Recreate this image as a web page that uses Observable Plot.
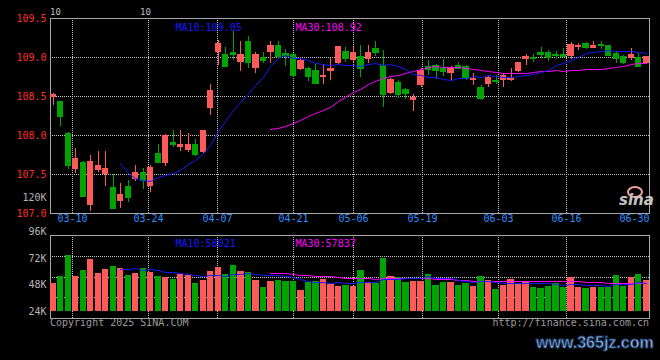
<!DOCTYPE html>
<html><head><meta charset="utf-8">
<script src="https://cdn.jsdelivr.net/npm/d3@7"></script>
<script src="https://cdn.jsdelivr.net/npm/@observablehq/plot@0.6"></script>
<style>
body{margin:0;background:#000;}
#wrap{position:relative;width:660px;height:360px;background:#000;overflow:hidden;font-family:"DejaVu Sans Mono",monospace;}
.t{position:absolute;font-size:10px;line-height:12px;white-space:nowrap;}
</style></head><body>
<div id="wrap">
<div id="price" style="position:absolute;left:0;top:0"></div>
<div id="vol" style="position:absolute;left:0;top:228px"></div>
<div class="t" style="left:50px;top:6px;font-size:9px;color:#bdbdbd">10</div>
<div class="t" style="left:140px;top:6px;font-size:9px;color:#bdbdbd">10</div>
<div class="t" style="left:50px;top:317px;color:#9b9b9b">Copyright 2025 SINA.COM</div>
<div class="t" style="right:11px;top:317px;color:#9b9b9b">http://finance.sina.com.cn</div>
<div style="position:absolute;left:627px;top:186px;width:12px;height:8px;border:2px solid #f2a0a0;border-radius:50%"></div>
<div style="position:absolute;left:619px;top:192px;font:italic bold 15px 'DejaVu Sans';color:#c4c4c4;line-height:16px">sina</div>
<div style="position:absolute;left:536px;top:334px;font:bold 16px 'Liberation Sans';line-height:18px;color:#a9cbee;-webkit-text-stroke:1px #1b3b6b;white-space:nowrap">www.365jz.com</div>
</div>
<script>
// ---- data ----
const dates = ["03-05","03-06","03-07","03-10","03-11","03-12","03-13","03-14","03-17","03-18",
"03-19","03-20","03-21","03-24","03-25","03-26","03-27","03-28","03-31","04-01",
"04-02","04-03","04-07","04-08","04-09","04-10","04-11","04-14","04-15","04-16",
"04-17","04-18","04-21","04-22","04-23","04-24","04-25","04-28","04-29","04-30",
"05-06","05-07","05-08","05-09","05-12","05-13","05-14","05-15","05-16","05-19",
"05-20","05-21","05-22","05-23","05-26","05-27","05-28","05-29","05-30","06-03",
"06-04","06-05","06-06","06-09","06-10","06-11","06-12","06-13","06-16","06-17",
"06-18","06-19","06-20","06-23","06-24","06-25","06-26","06-27","06-30","07-01"];
const open = [108.49,108.43,108.02,107.57,107.65,107.10,107.55,107.50,107.33,107.16,
107.35,107.44,107.53,107.34,107.77,107.64,107.91,107.84,107.81,107.88,
107.78,108.34,109.07,109.04,109.07,108.94,109.21,108.86,109.00,109.06,
109.16,109.05,109.04,108.85,108.86,108.83,108.75,108.82,108.92,109.08,
108.96,109.01,108.98,109.11,108.90,108.54,108.68,108.59,108.45,108.64,
108.89,108.90,108.86,108.79,108.90,108.89,108.70,108.62,108.65,108.71,
108.71,108.71,108.82,108.97,109.00,109.06,109.06,109.04,109.04,109.01,
109.13,109.18,109.11,109.17,109.15,109.05,109.01,108.99,109.00,108.92];
const high = [108.54,108.44,108.04,107.83,107.67,107.75,107.80,107.80,107.50,107.39,
107.42,107.61,107.58,107.62,107.88,108.01,108.07,108.07,108.03,107.95,
108.07,108.65,109.22,109.13,109.33,109.20,109.27,109.06,109.07,109.21,
109.20,109.10,109.05,109.00,108.87,108.91,108.91,108.99,109.14,109.13,
109.13,109.16,109.16,109.21,109.09,108.73,108.70,108.60,108.53,108.86,
108.96,108.91,108.97,108.89,108.94,108.90,108.79,108.64,108.76,108.77,
108.80,108.86,108.94,109.04,109.04,109.13,109.09,109.08,109.11,109.19,
109.18,109.19,109.21,109.20,109.16,109.08,109.03,109.12,109.05,109.01];
const low = [108.39,108.12,107.56,107.51,107.20,107.03,107.53,107.34,107.05,107.06,
107.14,107.41,107.31,107.27,107.65,107.60,107.84,107.80,107.78,107.73,
107.77,108.26,108.90,108.88,108.96,108.82,108.86,108.80,108.92,108.92,
108.98,108.88,108.74,108.83,108.69,108.66,108.66,108.70,108.91,108.94,
108.94,108.75,108.92,109.01,108.36,108.53,108.48,108.46,108.31,108.62,
108.77,108.72,108.76,108.70,108.84,108.70,108.64,108.45,108.62,108.65,
108.62,108.69,108.81,108.90,108.94,108.99,108.95,108.97,109.00,108.97,
109.09,109.10,109.11,109.10,109.01,108.92,108.91,108.96,108.88,108.92];
const close = [108.52,108.24,107.62,107.70,107.22,107.67,107.62,107.58,107.06,107.24,
107.21,107.53,107.42,107.59,107.66,108.00,107.88,107.88,107.88,107.76,
108.06,108.58,109.18,108.89,109.04,109.04,108.94,109.04,108.96,109.15,
109.01,109.02,108.77,108.96,108.76,108.67,108.77,108.86,109.14,108.99,
109.06,108.86,109.06,109.06,108.53,108.72,108.53,108.54,108.49,108.83,
108.84,108.83,108.82,108.86,108.86,108.73,108.73,108.47,108.74,108.69,
108.77,108.73,108.93,109.01,108.99,109.04,109.00,109.02,109.01,109.17,
109.15,109.13,109.16,109.15,109.02,108.99,108.94,109.04,108.89,109.01];
const volume = [49300,55600,74300,55600,60800,70700,58300,61400,64400,62300,
56300,58300,62800,58700,55600,54700,52600,56900,56300,49300,
51700,59900,63800,57200,65300,59900,58700,51700,45400,50800,
51700,50800,50800,42700,50200,50800,52600,48100,46600,47200,
46600,60800,50200,48800,71900,55600,54200,50200,50800,50800,
57200,47200,50200,50200,47200,48800,46300,55300,51700,43600,
47200,52600,47800,50800,45700,44800,46300,48800,45700,54700,
45700,44800,45700,45700,45100,56300,46600,54700,57200,51700];
const tickDates = ["03-10","03-24","04-07","04-21","05-06","05-19","06-03","06-16","06-30"];
const priceTicks = [109.5,109.0,108.5,108.0,107.5,107.0];
const volTicks = [96000,72000,48000,24000];
const priceMaLabels = ["MA10:109.05","MA30:108.92"];
const volMaLabels = ["MA10:58021","MA30:57837"];
const extraPriceLabel = "120K";

// ---- derived ----
const rows = dates.map((d,i)=>({i, date:d, open:open[i], high:high[i], low:low[i], close:close[i], volume:volume[i]}));
const isUp = d => d.close >= d.open;
function movingAvg(vals,k){return vals.map((_,i)=> i<k-1 ? NaN : d3.mean(vals.slice(i-k+1,i+1)));}
const ma = (vals,k) => movingAvg(vals,k).map((v,i)=>({i, v}));
const pMa10 = ma(close,10), pMa30 = ma(close,30), vMa10 = ma(volume,10), vMa30 = ma(volume,30);

const RED = "#ff5a5a", GREEN = "#00a400", BLUE = "#1818ff", MAG = "#ff00ff";
const GRID = "#c4c4c4", FRAME = "#a8a8a8";
const xDomain = [-0.36, 79.44];
// sina lays its date lines on a slightly wider pitch than the candles
const gx = k => k*1.0132 - 0.468;
const ticks = tickDates.map(t=>({label:t, x:gx(dates.indexOf(t))}));
const inside = ticks.filter(t=>t.x < xDomain[1]-1.5);
const edge = ticks.filter(t=>t.x >= xDomain[1]-1.5);
const half = 0.42;
const style = {background:"transparent", overflow:"visible", fontFamily:"DejaVu Sans Mono", fontSize:"10px"};

const candleMarks = (yBase) => [];

const price = Plot.plot({
  width:660, height:228, marginLeft:50, marginRight:11, marginTop:18, marginBottom:15,
  style,
  x:{domain:xDomain, axis:null, round:true},
  y:{domain:[107,109.5], axis:null, round:true},
  marks:[
    Plot.ruleY(priceTicks.slice(1,-1), {stroke:GRID, strokeDasharray:"1,1"}),
    Plot.ruleX(inside, {x:"x", stroke:GRID, strokeDasharray:"1,1"}),
    Plot.frame({stroke:FRAME}),
    Plot.ruleX(rows, {filter:isUp, x:"i", y1:"low", y2:"high", stroke:RED}),
    Plot.ruleX(rows, {filter:d=>!isUp(d), x:"i", y1:"low", y2:"high", stroke:GREEN}),
    Plot.rect(rows, {filter:isUp, x1:d=>d.i-half, x2:d=>d.i+half, y1:"open", y2:"close", fill:RED}),
    Plot.rect(rows, {filter:d=>!isUp(d), x1:d=>d.i-half, x2:d=>d.i+half, y1:"open", y2:"close", fill:GREEN}),
    Plot.ruleY(rows, {filter:isUp, x1:d=>d.i-half, x2:d=>d.i+half, y:"close", stroke:RED}),
    Plot.ruleY(rows, {filter:d=>!isUp(d), x1:d=>d.i-half, x2:d=>d.i+half, y:"close", stroke:GREEN}),
    Plot.line(pMa30, {x:"i", y:"v", stroke:MAG, strokeWidth:1}),
    Plot.line(pMa10, {x:"i", y:"v", stroke:BLUE, strokeWidth:1}),
    Plot.text(priceTicks, {y:d=>d, frameAnchor:"left", dx:-4, textAnchor:"end", text:d=>d.toFixed(1), fill:"#ff2b2b"}),
    Plot.text([extraPriceLabel], {frameAnchor:"bottom-left", dx:-4, dy:-13, textAnchor:"end", text:d=>d, fill:"#b4b4b4"}),
    Plot.text(inside, {x:"x", frameAnchor:"bottom", dy:8, text:"label", fill:"#2f8fff"}),
    Plot.text(edge, {frameAnchor:"bottom-right", dy:8, textAnchor:"end", text:"label", fill:"#2f8fff"}),
    Plot.text([priceMaLabels[0]], {frameAnchor:"top-left", dx:125, dy:5.5, textAnchor:"start", text:d=>d, fill:BLUE}),
    Plot.text([priceMaLabels[1]], {frameAnchor:"top-left", dx:245, dy:5.5, textAnchor:"start", text:d=>d, fill:MAG})
  ]
});
document.getElementById("price").appendChild(price);

const volDomain = [17400, 92400];
const volBase = d3.min(volTicks);
const volGrid = [0.25,0.5,0.75].map(f=>volDomain[0]+(volDomain[1]-volDomain[0])*f);
const vol = Plot.plot({
  width:660, height:132, marginLeft:50, marginRight:11, marginTop:7, marginBottom:42,
  style,
  x:{domain:xDomain, axis:null, round:true},
  y:{domain:volDomain, axis:null, round:true},
  marks:[
    Plot.ruleY(volGrid, {stroke:GRID, strokeDasharray:"1,1"}),
    Plot.ruleX(inside, {x:"x", stroke:GRID, strokeDasharray:"1,1"}),
    Plot.frame({stroke:FRAME}),
    Plot.rect(rows, {filter:isUp, x1:d=>d.i-half, x2:d=>d.i+half, y1:volBase, y2:"volume", fill:RED}),
    Plot.rect(rows, {filter:d=>!isUp(d), x1:d=>d.i-half, x2:d=>d.i+half, y1:volBase, y2:"volume", fill:GREEN}),
    Plot.line(vMa30, {x:"i", y:"v", stroke:MAG, strokeWidth:1}),
    Plot.line(vMa10, {x:"i", y:"v", stroke:BLUE, strokeWidth:1}),
    Plot.text(volTicks, {y:d=>d, frameAnchor:"left", dx:-4, textAnchor:"end", text:d=>(d/1000)+"K", fill:"#b4b4b4"}),
    Plot.text([volMaLabels[0]], {frameAnchor:"top-left", dx:125, dy:4, textAnchor:"start", text:d=>d, fill:BLUE}),
    Plot.text([volMaLabels[1]], {frameAnchor:"top-left", dx:245, dy:4, textAnchor:"start", text:d=>d, fill:MAG})
  ]
});
document.getElementById("vol").appendChild(vol);
</script>
</body></html>
